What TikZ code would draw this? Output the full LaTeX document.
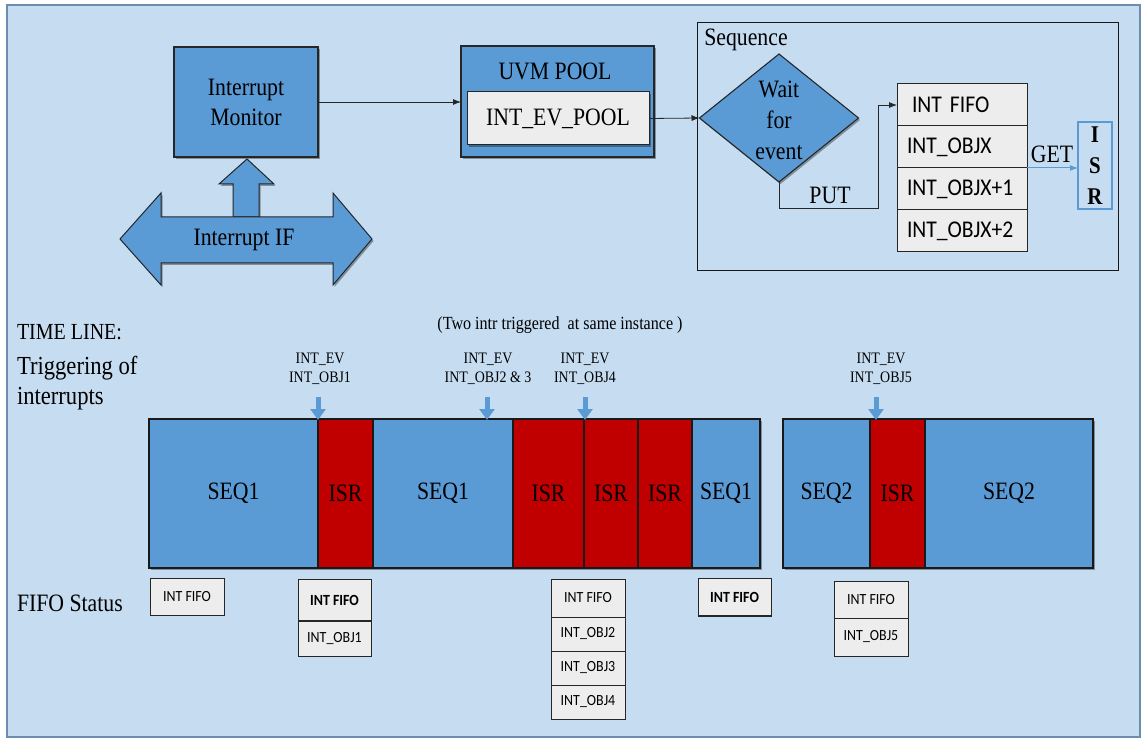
\documentclass[tikz,border=0pt]{standalone}
\usepackage{fontspec}
\setmainfont{Liberation Serif}
\newfontfamily\tms[FakeStretch=0.87]{Liberation Serif}
\newfontfamily\sansf[FakeStretch=0.9]{Carlito}
\usetikzlibrary{arrows.meta,shadows,shapes.geometric}
\definecolor{bgblue}{HTML}{C5DCF1}
\definecolor{bgedge}{HTML}{6C8DB0}
\definecolor{boxblue}{HTML}{5B9BD5}
\definecolor{isrred}{HTML}{C00000}
\definecolor{fifogray}{HTML}{EDEDED}
\newcommand\mkbox[7]{\node[#1, anchor=north west, minimum width={(#5)-(#3)}, minimum height={(#6)-(#4)}] (#2) at (#3,#4) {#7};}
\begin{document}
\begin{tikzpicture}[x=1pt,y=-1pt,
  every node/.style={inner sep=0pt, outer sep=0pt},
  shad/.style={drop shadow={shadow xshift=1.5pt, shadow yshift=-2pt, opacity=0.35, fill=black}},
  bluebox/.style={draw=black!85, line width=1.1pt, fill=boxblue, shad},
  graybox/.style={draw=black!85, line width=1pt, fill=fifogray},
  seqbar/.style={draw=black!90, line width=1.2pt, fill=boxblue, font=\tms\fontsize{25}{28}\selectfont},
  isrbar/.style={draw=black!90, line width=1.2pt, fill=isrred, font=\tms\fontsize{25}{28}\selectfont},
  fiforow/.style={graybox, font=\sansf\fontsize{24}{28}\selectfont, text width=110pt, align=left, inner xsep=10pt},
  sfifo/.style={graybox, font=\sansf\fontsize{15.5}{18}\selectfont},
  big/.style={font=\tms\fontsize{25}{30}\selectfont},
  evlbl/.style={align=center, font=\tms\fontsize{16}{19}\selectfont},
  conn/.style={draw=black!85, line width=0.8pt, -{Latex[length=8pt,width=6pt]}},
  getarrow/.style={draw=boxblue, line width=1pt, -{Latex[length=8pt,width=6pt]}},
  evarrow/.style={draw=boxblue, line width=5pt, -{Triangle[width=15pt,length=11pt]}},
  arrowshape/.style={draw=black!85, line width=1pt, fill=boxblue, shad}
]
\useasboundingbox (0,0) rectangle (1146,743);
\fill[white] (0,0) rectangle (1146,743);
\draw[draw=bgedge, line width=2pt, fill=bgblue] (7,5) rectangle (1140,737);

% ---------- top part ----------
\mkbox{bluebox, align=center, font=\tms\fontsize{25}{30}\selectfont}{mon}{174}{47}{318}{157}{Interrupt\\Monitor}
\draw[arrowshape] (233,217) -- (233,184) -- (219,184) -- (247,159) -- (274,184) -- (259,184) -- (259,217) -- cycle;
\draw[arrowshape] (120,239) -- (161,193) -- (161,217) -- (333,217) -- (333,193) -- (372,239) -- (333,285) -- (333,263) -- (161,263) -- (161,285) -- cycle;
\node[big] (ifn) at (244,240) {Interrupt IF};

\mkbox{bluebox}{pool}{461}{46}{654}{157}{}
\node[big] (pooltitle) at (555,71) {UVM POOL};
\mkbox{graybox, shad, big}{evpool}{467}{92}{649}{145}{INT\_EV\_POOL}

\mkbox{draw=black!90, line width=0.9pt}{seq}{697}{22}{1118}{270}{}
\node[big] (seqlbl) at (746,40) {Sequence};
\node[diamond, bluebox, minimum width=159pt, minimum height=128pt] (dia) at (779,118) {};
\node[align=center, font=\tms\fontsize{25}{31}\selectfont] (diatxt) at (779,120) {Wait\\for\\event};

\mkbox{fiforow}{fifo0}{897}{84}{1027}{126}{\hspace*{5pt}INT FIFO}
\mkbox{fiforow}{fifo1}{897}{126}{1027}{168}{INT\_OBJX}
\mkbox{fiforow}{fifo2}{897}{168}{1027}{210}{INT\_OBJX+1}
\mkbox{fiforow}{fifo3}{897}{210}{1027}{252}{INT\_OBJX+2}
\mkbox{draw=boxblue, line width=1.2pt, align=center, font=\tms\bfseries\fontsize{24}{31}\selectfont}{isr}{1078}{122}{1112}{209}{I\\S\\R}

\draw[conn] (mon.east) -- (mon.east -| pool.west);
\draw[conn] (evpool.east) -- (dia.west);
\coordinate (putc) at (878,208);
\draw[conn] (dia.south) |- (putc) |- (fifo0.west);
\node[big] (putlbl) at (830,195) {PUT};
\draw[getarrow] (fifo1.south east) -- (fifo1.south east -| isr.west);
\node[big] (getlbl) at (1052,154) {GET};

% ---------- time line ----------
\node[anchor=west, font=\tms\fontsize{23}{26}\selectfont] (tl) at (17,332) {TIME LINE:};
\node[anchor=west, align=left, font=\tms\fontsize{26}{30}\selectfont] (trig) at (17,383) {Triggering of\\interrupts};
\node[font=\tms\fontsize{18.5}{21}\selectfont] (note) at (560,325) {(Two intr triggered\ \ at same instance )};
\node[anchor=west, big] (fs) at (17,603) {FIFO Status};

\mkbox{seqbar, shad}{b1}{149}{419}{318}{568}{SEQ1}
\mkbox{isrbar, shad}{b2}{318}{419}{373}{568}{ISR}
\mkbox{seqbar, shad}{b3}{373}{419}{513}{568}{SEQ1}
\mkbox{isrbar, shad}{b4}{513}{419}{584}{568}{ISR}
\mkbox{isrbar, shad}{b5}{584}{419}{638}{568}{ISR}
\mkbox{isrbar, shad}{b6}{638}{419}{692}{568}{ISR}
\mkbox{seqbar, shad}{b7}{692}{419}{760}{568}{SEQ1}
\mkbox{seqbar, shad}{b8}{783}{419}{870}{568}{SEQ2}
\mkbox{isrbar, shad}{b9}{870}{419}{925}{568}{ISR}
\mkbox{seqbar, shad}{b10}{925}{419}{1093}{568}{SEQ2}

\node[evlbl] (ev1) at (320,369) {INT\_EV\\INT\_OBJ1};
\node[evlbl] (ev2) at (488,369) {INT\_EV\\INT\_OBJ2 \& 3};
\node[evlbl] (ev3) at (585,369) {INT\_EV\\INT\_OBJ4};
\node[evlbl] (ev4) at (881,369) {INT\_EV\\INT\_OBJ5};
\coordinate (t1) at (318,420);
\coordinate (t2) at (487,420);
\coordinate (t3) at (585,420);
\coordinate (t4) at (876,420);
\draw[evarrow] (t1) ++(0,-23) -- (t1);
\draw[evarrow] (t2) ++(0,-23) -- (t2);
\draw[evarrow] (t3) ++(0,-23) -- (t3);
\draw[evarrow] (t4) ++(0,-23) -- (t4);

% ---------- FIFO status ----------
\mkbox{sfifo}{f1}{150}{578}{224}{615}{INT FIFO}
\mkbox{sfifo}{f2a}{298}{579}{371}{621}{\bfseries INT FIFO}
\mkbox{sfifo}{f2b}{298}{621}{371}{656}{INT\_OBJ1}
\draw[line width=2.5pt, black!85] (f2a.south west) -- (f2a.south east);
\mkbox{sfifo}{f3a}{551}{579}{625}{617}{INT FIFO}
\mkbox{sfifo}{f3b}{551}{617}{625}{651}{INT\_OBJ2}
\mkbox{sfifo}{f3c}{551}{651}{625}{685}{INT\_OBJ3}
\mkbox{sfifo}{f3d}{551}{685}{625}{719}{INT\_OBJ4}
\mkbox{sfifo}{f4}{698}{578}{771}{616}{\bfseries INT FIFO}
\draw[line width=2.5pt, black!85] (f4.south west) -- (f4.south east);
\mkbox{sfifo}{f5a}{834}{581}{908}{618}{INT FIFO}
\mkbox{sfifo}{f5b}{834}{618}{908}{656}{INT\_OBJ5}
\end{tikzpicture}
\end{document}
